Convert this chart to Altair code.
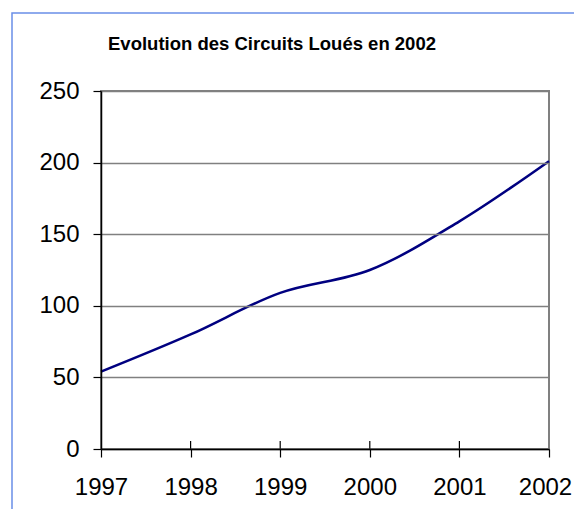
import altair as alt
import pandas as pd

years = [1997, 1998, 1999, 2000, 2001, 2002]
circuits = [54, 80, 109, 125, 159, 201]
inner_ticks = [1998, 1999, 2000, 2001]
title_text = "Evolution des Circuits Loués en 2002"

df = pd.DataFrame({"year": years, "value": circuits})
ticks_df = pd.DataFrame({"year": inner_ticks})

W, H = 448, 358
FONT = "Liberation Sans"

xscale = alt.Scale(domain=[1997, 2002], nice=False, zero=False)
yscale = alt.Scale(domain=[0, 250], nice=False)

frame = alt.Chart(pd.DataFrame({"a": [0]})).mark_rect(
    fill=None, stroke="#6a8ee8", strokeWidth=1.5, clip=False
).encode(
    x=alt.value(-89), x2=alt.value(520), y=alt.value(-78), y2=alt.value(470)
)

border = alt.Chart(pd.DataFrame({"a": [0]})).mark_rect(
    fill=None, stroke="#808080", strokeWidth=2, clip=False
).encode(
    x=alt.value(0), x2=alt.value(W), y=alt.value(0), y2=alt.value(H)
)

line = alt.Chart(df).mark_line(
    color="#000080", strokeWidth=2.5, interpolate="catmull-rom"
).encode(
    x=alt.X("year:Q", scale=xscale,
            axis=alt.Axis(values=years, format="d", title=None, grid=False,
                          tickSize=8, tickColor="black", tickWidth=1.2,
                          domainColor="black", domainWidth=1.5,
                          labelFontSize=24, labelFont=FONT, labelColor="black",
                          labelPadding=18, labelFlush=False, zindex=1,
                          labelOffset={"condition": {"test": "datum.value == 2002", "value": -4},
                                       "value": 0})),
    y=alt.Y("value:Q", scale=yscale,
            axis=alt.Axis(values=[0, 50, 100, 150, 200, 250], title=None,
                          grid=True, gridColor="#808080", gridWidth=1.5,
                          tickSize=8, tickColor="black", tickWidth=1.2,
                          domainColor="black", domainWidth=1.5,
                          labelFontSize=24, labelFont=FONT, labelColor="black",
                          labelPadding=14, zindex=1)),
)

inner = alt.Chart(ticks_df).mark_rule(color="black", strokeWidth=1.2).encode(
    x=alt.X("year:Q", scale=xscale),
    y=alt.value(H - 8), y2=alt.value(H),
)

title = alt.Chart(pd.DataFrame({"t": [title_text]})).mark_text(
    font=FONT, fontSize=18.5, fontWeight="bold", color="black",
    align="center", baseline="alphabetic", clip=False
).encode(
    x=alt.value(171), y=alt.value(-41), text="t:N"
)

chart = alt.layer(frame, border, line, inner, title).properties(
    width=W, height=H,
    autosize=alt.AutoSizeParams(type="none"),
    padding={"left": 93, "top": 83, "right": 25, "bottom": 60},
).configure_view(stroke=None).configure(background="white")

chart.save("out.html", embed_options={"renderer": "svg", "actions": False})
